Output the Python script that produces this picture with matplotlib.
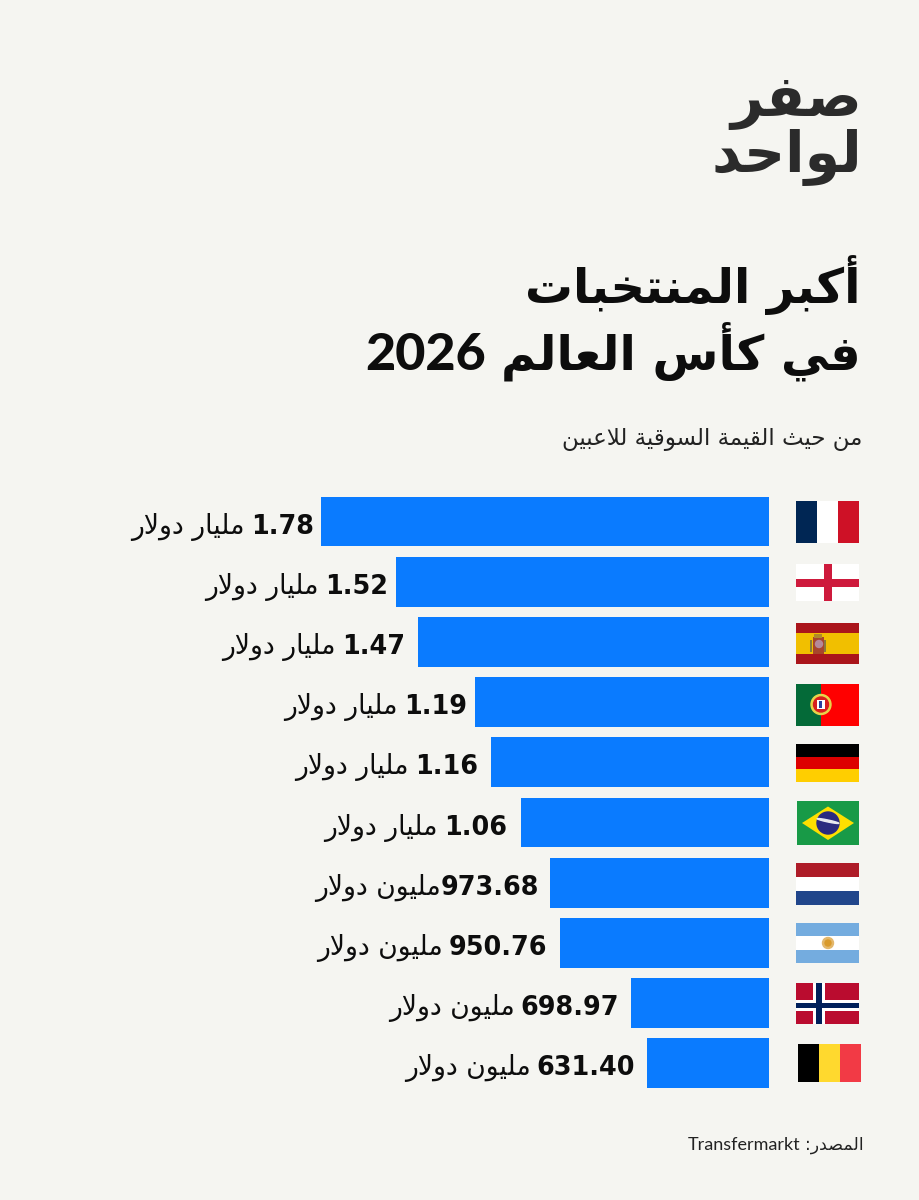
import re
import matplotlib
matplotlib.use('Agg')
import matplotlib.pyplot as plt
from matplotlib.patches import Rectangle, Circle, Polygon, Ellipse

teams = ['France', 'England', 'Spain', 'Portugal', 'Germany', 'Brazil', 'Netherlands', 'Argentina', 'Norway', 'Belgium']
amounts = ['1.78', '1.52', '1.47', '1.19', '1.16', '1.06', '973.68', '950.76', '698.97', '631.40']
units = ['مليار دولار'] * 6 + ['مليون دولار'] * 4
# bar lengths as drawn in the picture, they are not quite to scale with the labels
bar_lengths = [448, 373, 351, 294, 278, 248, 219, 209, 138, 122]

logo_lines = ['صفر', 'لواحد']
title_first = 'أكبر المنتخبات'
title_second = 'في كأس العالم'
title_year = '2026'
subtitle = 'من حيث القيمة السوقية للاعبين'
source_name = 'Transfermarkt'
source_label = 'المصدر:'

BG = '#F5F5F1'
BLUE = '#0A7BFF'
INK = '#0D0D0D'
ARABIC_FONT = ['DejaVu Sans']
LATIN_FONT = ['Lato', 'DejaVu Sans']

# isolated, final, initial, medial
forms = {
    'ا': 'ﺍﺎ', 'أ': 'ﺃﺄ', 'د': 'ﺩﺪ', 'ر': 'ﺭﺮ', 'و': 'ﻭﻮ', 'ة': 'ﺓﺔ',
    'ب': 'ﺏﺐﺑﺒ', 'ت': 'ﺕﺖﺗﺘ', 'ث': 'ﺙﺚﺛﺜ', 'ح': 'ﺡﺢﺣﺤ', 'خ': 'ﺥﺦﺧﺨ',
    'س': 'ﺱﺲﺳﺴ', 'ص': 'ﺹﺺﺻﺼ', 'ع': 'ﻉﻊﻋﻌ', 'ف': 'ﻑﻒﻓﻔ', 'ق': 'ﻕﻖﻗﻘ',
    'ك': 'ﻙﻚﻛﻜ', 'ل': 'ﻝﻞﻟﻠ', 'م': 'ﻡﻢﻣﻤ', 'ن': 'ﻥﻦﻧﻨ', 'ي': 'ﻱﻲﻳﻴ',
}


def shape(word):
    # matplotlib does no arabic joining, so pick the forms here
    word = word.replace('لا', '\ufefb').replace('لأ', '\ufef7')
    out = []
    for i, c in enumerate(word):
        prev = word[i - 1] if i > 0 else ''
        nxt = word[i + 1] if i + 1 < len(word) else ''
        joins_prev = prev in forms and len(forms[prev]) == 4
        joins_next = nxt in forms or nxt in '\ufefb\ufef7' and nxt != ''
        if c == '\ufefb' or c == '\ufef7':
            out.append(chr(ord(c) + 1) if joins_prev else c)
        elif c not in forms:
            out.append(c)
        elif len(forms[c]) == 2:
            out.append(forms[c][1 if joins_prev else 0])
        elif joins_prev and joins_next:
            out.append(forms[c][3])
        elif joins_prev:
            out.append(forms[c][1])
        elif joins_next:
            out.append(forms[c][2])
        else:
            out.append(forms[c][0])
    return ''.join(out)


def rtl(text):
    return shape(text)[::-1]


fig = plt.figure(figsize=(9.2, 12), dpi=100, facecolor=BG)

# bars grow leftwards from x=769, one x unit is one pixel
ax = fig.add_axes([0, 0, 769 / 920, 1])
ax.set_xlim(769, 0)
first_y, step = 521.5, 60.2
ax.set_ylim((1200 - first_y) / step, -first_y / step)
ax.axis('off')
ax.barh(range(len(teams)), bar_lengths, height=0.825, color=BLUE)

# space between bar end and number differs row by row in the reference
label_pads = [7, 8, 13, 8, 13, 14, 11, 13, 12, 12]
renderer = fig.canvas.get_renderer()
for i, length in enumerate(bar_lengths):
    num = ax.annotate(amounts[i], xy=(length, i), xytext=(-label_pads[i], -12), textcoords='offset pixels',
                      ha='right', va='baseline', fontsize=18.4, fontweight='bold',
                      family=ARABIC_FONT, color=INK)
    w = num.get_window_extent(renderer).width
    gap = 0 if teams[i] == 'Netherlands' else 6
    ax.annotate(rtl(units[i]), xy=(length, i), xytext=(-label_pads[i] - w - gap, -12), textcoords='offset pixels',
                ha='right', va='baseline', fontsize=19.2, family=ARABIC_FONT, color=INK)

# overlay in picture pixels for the header, footer and flags
top = fig.add_axes([0, 0, 1, 1])
top.set_xlim(0, 920)
top.set_ylim(1200, 0)
top.axis('off')
top.patch.set_alpha(0)

top.text(862, 116, rtl(logo_lines[0]), ha='right', va='baseline', fontsize=41, fontweight='bold',
         family=ARABIC_FONT, color='#2B2B2B')
top.text(862, 172, rtl(logo_lines[1]), ha='right', va='baseline', fontsize=41, fontweight='bold',
         family=ARABIC_FONT, color='#2B2B2B')
top.text(861, 303, rtl(title_first), ha='right', va='baseline', fontsize=34.5, fontweight='bold',
         family=ARABIC_FONT, color=INK)
top.text(861, 370, rtl(title_second), ha='right', va='baseline', fontsize=34.5, fontweight='bold',
         family=ARABIC_FONT, color=INK)
top.text(486, 370, title_year, ha='right', va='baseline', fontsize=37.5, fontweight=900,
         family=LATIN_FONT, color=INK)
top.text(862, 445, rtl(subtitle), ha='right', va='baseline', fontsize=16.5, family=ARABIC_FONT, color='#222222')
top.text(864, 1150, rtl(source_label), ha='right', va='baseline', fontsize=12.5, family=ARABIC_FONT, color='#222222')
top.text(800, 1150, source_name, ha='right', va='baseline', fontsize=13, family=LATIN_FONT, color='#222222')


def rect(x0, y0, x1, y1, color):
    top.add_patch(Rectangle((x0, y0), x1 - x0, y1 - y0, facecolor=color, edgecolor='none'))


def hstripes(x0, y0, x1, y1, colors, shares=None):
    shares = shares or [1 / len(colors)] * len(colors)
    y = y0
    for c, s in zip(colors, shares):
        rect(x0, y, x1, y + (y1 - y0) * s, c)
        y += (y1 - y0) * s


def vstripes(x0, y0, x1, y1, colors, shares=None):
    shares = shares or [1 / len(colors)] * len(colors)
    x = x0
    for c, s in zip(colors, shares):
        rect(x, y0, x + (x1 - x0) * s, y1, c)
        x += (x1 - x0) * s


vstripes(796, 501, 859, 543, ['#002654', '#FFFFFF', '#CE1126'])

rect(796, 563.5, 859.5, 601, '#FFFFFF')
rect(796, 578.5, 859.5, 586.5, '#CE1A3C')
rect(824, 563.5, 832, 601, '#CE1A3C')

hstripes(796, 622.5, 859, 664, ['#AA151B', '#F1BF00', '#AA151B'], [0.25, 0.5, 0.25])
rect(813, 637, 824, 654, '#A8452C')
rect(814, 634, 822, 638, '#B0892A')
top.add_patch(Circle((819, 644), 3.5, color='#B58A9A'))
rect(810, 640, 812, 652, '#8A7A3A')
rect(824, 640, 826, 652, '#8A7A3A')

vstripes(796, 684, 859, 725.5, ['#046A38', '#FF0000'], [0.4, 0.6])
top.add_patch(Circle((821, 704.5), 10, color='#E8D44A'))
top.add_patch(Circle((821, 704.5), 7.5, color='#D81E1E'))
rect(817, 700, 825, 709, '#FFFFFF')
rect(819.5, 701, 822.5, 708, '#2B3F9E')

hstripes(796, 744, 859, 782, ['#000000', '#DD0000', '#FFCE00'])

rect(797, 801, 859, 845, '#189A47')
top.add_patch(Polygon([(802, 823), (828, 806.5), (854, 823), (828, 840)], facecolor='#FEDF00', edgecolor='none'))
top.add_patch(Circle((828, 823), 11, color='#2A2A80'))
top.add_patch(Ellipse((828, 821), 22, 2, angle=12, color='#E8E8F0'))

hstripes(796, 863, 859, 905, ['#AE1C28', '#FFFFFF', '#21468B'])

hstripes(796, 923, 859.5, 963, ['#74ACDF', '#FFFFFF', '#74ACDF'])
top.add_patch(Circle((828, 943), 5.5, color='#E3B76B'))
top.add_patch(Circle((828, 943), 3, color='#D99A2B'))

rect(796, 982.5, 859, 1024, '#BA0C2F')
rect(813, 982.5, 825, 1024, '#FFFFFF')
rect(796, 1000, 859, 1011, '#FFFFFF')
rect(816.5, 982.5, 822, 1024, '#00205B')
rect(796, 1002.5, 859, 1008, '#00205B')

vstripes(798, 1044, 861, 1082, ['#000000', '#FFD92E', '#F23A45'])

fig.savefig('out.png', dpi=100, facecolor=BG)
